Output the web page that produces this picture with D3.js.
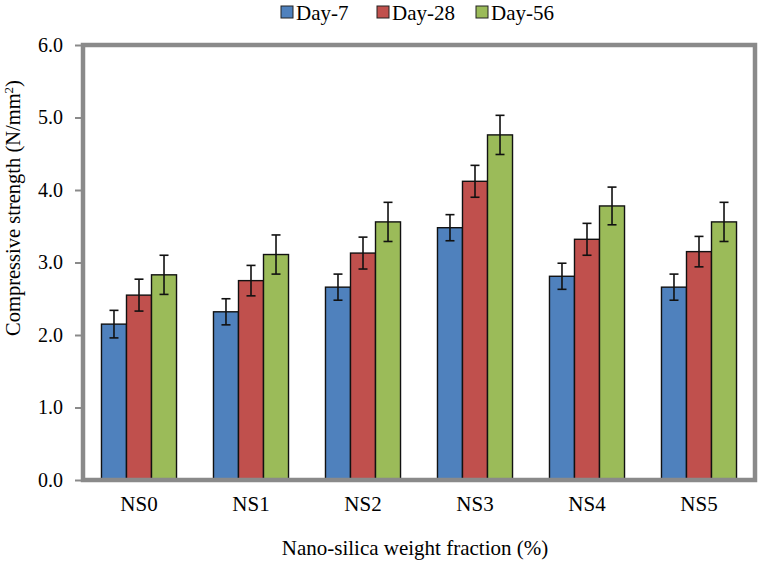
<!DOCTYPE html>
<html><head><meta charset="utf-8">
<script src="https://cdn.jsdelivr.net/npm/d3@7"></script>
<style>body{margin:0;background:#fff}svg{display:block}</style>
</head><body>
<svg id="c" width="762" height="561" font-family="Liberation Serif"></svg>
<script>
const categories = ["NS0","NS1","NS2","NS3","NS4","NS5"];
const seriesNames = ["Day-7","Day-28","Day-56"];
const day7  = [2.15, 2.32, 2.66, 3.48, 2.81, 2.66];
const day28 = [2.55, 2.75, 3.13, 4.12, 3.32, 3.15];
const day56 = [2.83, 3.11, 3.56, 4.76, 3.78, 3.56];
const err7  = [0.19, 0.18, 0.18, 0.18, 0.18, 0.18];
const err28 = [0.22, 0.21, 0.22, 0.22, 0.22, 0.21];
const err56 = [0.27, 0.27, 0.27, 0.27, 0.26, 0.27];
const yTicks = [0,1,2,3,4,5,6];
const colors = ["#4F81BD","#C0504D","#9BBB59"];

const values = [day7, day28, day56];
const errs = [err7, err28, err56];
const svg = d3.select("#c");
const L = 83, R = 755, T = 45, B = 480;
const FF = "Liberation Serif";

const x0 = d3.scaleBand().domain(categories).range([L, R]).paddingInner(0.33).paddingOuter(0.165);
const x1 = d3.scaleBand().domain(seriesNames).range([0, x0.bandwidth()]);
const y = d3.scaleLinear().domain([0, 6]).range([B, T]);

const g = svg.append("g");
categories.forEach((c, i) => {
  seriesNames.forEach((s, k) => {
    const v = values[k][i], e = errs[k][i];
    const bx = x0(c) + x1(s);
    g.append("rect").attr("x", bx).attr("y", y(v)).attr("width", x1.bandwidth()).attr("height", B - y(v))
      .attr("fill", colors[k]).attr("stroke", "#111").attr("stroke-width", 1.4);
    const cx = bx + x1.bandwidth() / 2;
    const eg = g.append("g").attr("stroke", "#111").attr("stroke-width", 1.6);
    eg.append("line").attr("x1", cx).attr("x2", cx).attr("y1", y(v + e)).attr("y2", y(v - e));
    eg.append("line").attr("x1", cx - 4.5).attr("x2", cx + 4.5).attr("y1", y(v + e)).attr("y2", y(v + e));
    eg.append("line").attr("x1", cx - 4.5).attr("x2", cx + 4.5).attr("y1", y(v - e)).attr("y2", y(v - e));
  });
});

svg.append("rect").attr("x", L).attr("y", T).attr("width", R - L).attr("height", B - T)
  .attr("fill", "none").attr("stroke", "#8a8a8a").attr("stroke-width", 4.5);

const ya = svg.append("g").attr("transform", `translate(${L},0)`)
  .call(d3.axisLeft(y).tickValues(yTicks).tickFormat(d3.format(".1f")).tickSize(8).tickPadding(12));
ya.attr("font-family", FF).attr("font-size", 20);
ya.select(".domain").remove();
ya.selectAll("line").attr("stroke", "#8a8a8a").attr("stroke-width", 2);
ya.selectAll("text").attr("font-family", FF).attr("font-size", 20).attr("fill", "#000");

const xa = svg.append("g").attr("transform", `translate(0,${B})`)
  .call(d3.axisBottom(x0).tickSize(0).tickPadding(16));
xa.attr("font-family", FF).attr("font-size", 21);
xa.select(".domain").remove();
xa.selectAll("text").attr("font-family", FF).attr("font-size", 21).attr("fill", "#000");

svg.append("text").attr("x", (L + R) / 2 - 4).attr("y", 555).attr("text-anchor", "middle")
  .attr("font-family", FF).attr("font-size", 21).text("Nano-silica weight fraction (%)");
const yt = svg.append("text").attr("transform", "translate(20,208) rotate(-90)").attr("text-anchor", "middle")
  .attr("font-family", FF).attr("font-size", 20.5);
yt.append("tspan").text("Compressive strength (N/mm");
yt.append("tspan").attr("dy", -7).attr("font-size", 13).text("2");
yt.append("tspan").attr("dy", 7).text(")");

const legX = [281, 377, 476];
const leg = svg.append("g");
seriesNames.forEach((s, k) => {
  leg.append("rect").attr("x", legX[k]).attr("y", 6).attr("width", 12).attr("height", 12)
    .attr("fill", colors[k]).attr("stroke", "#222").attr("stroke-width", 1);
  leg.append("text").attr("x", legX[k] + 15).attr("y", 20).attr("font-family", FF).attr("font-size", 21).text(s);
});
</script>
</body></html>
